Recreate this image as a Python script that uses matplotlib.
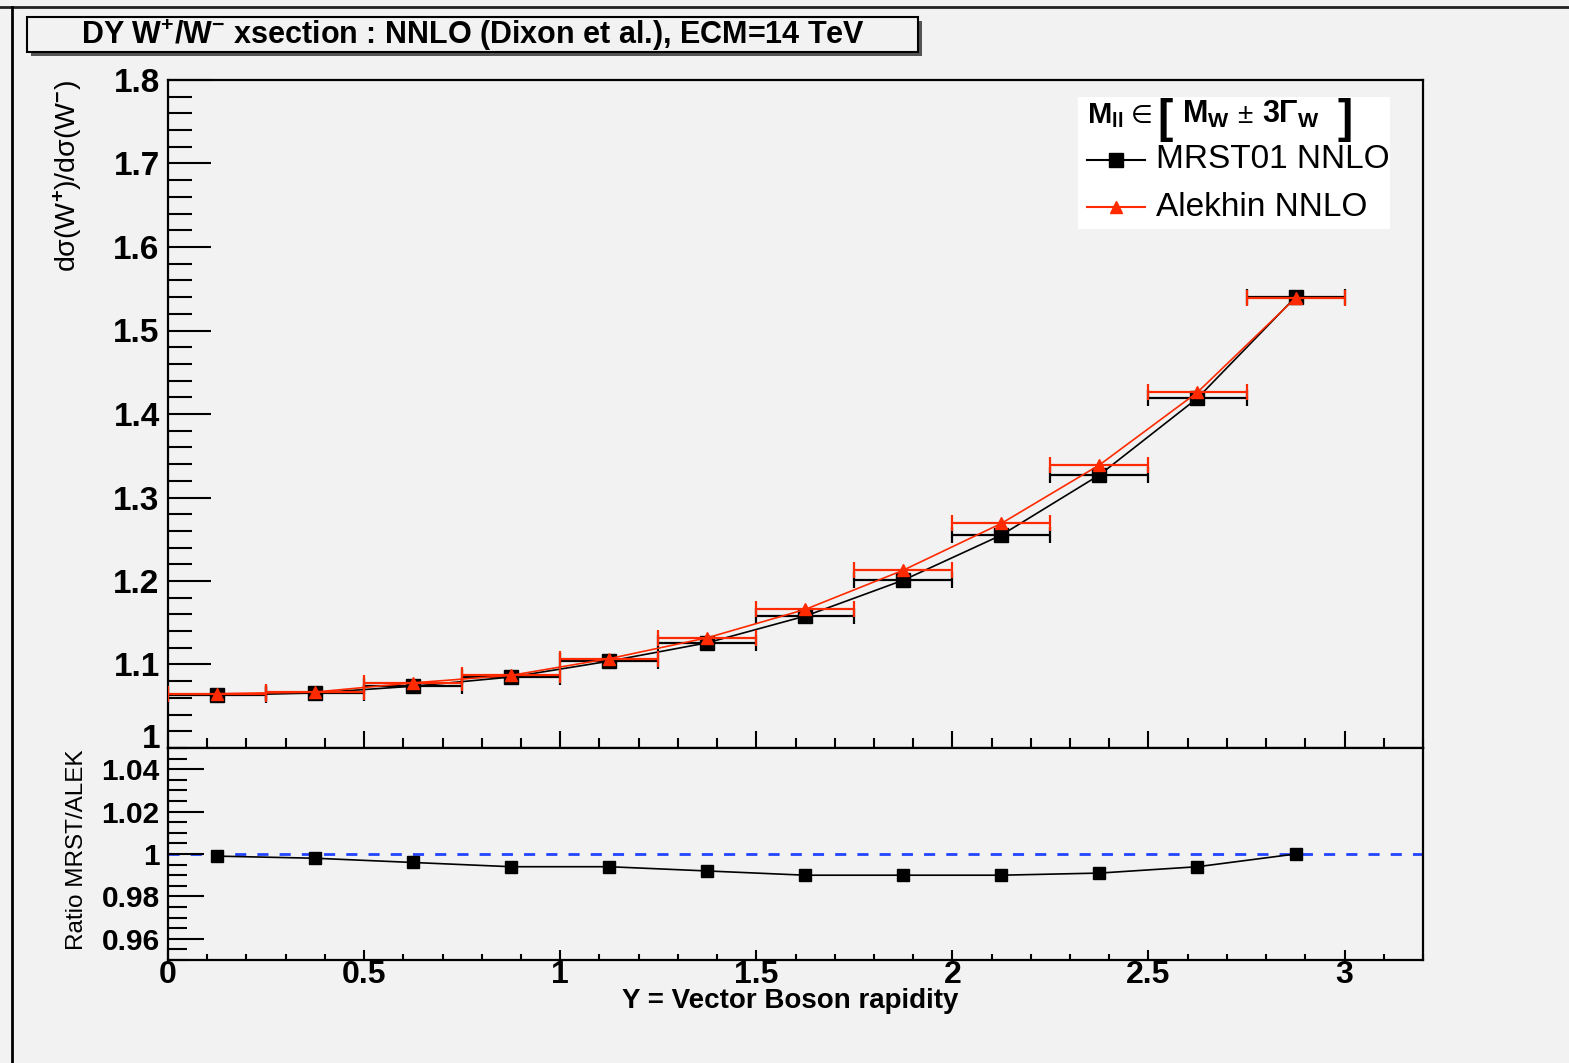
import numpy as np
import matplotlib
matplotlib.use("Agg")
import matplotlib.pyplot as plt
from matplotlib.lines import Line2D
from matplotlib.patches import Rectangle
from matplotlib.ticker import MultipleLocator, FuncFormatter

plt.rcParams["font.family"] = ["Liberation Sans", "DejaVu Sans"]
plt.rcParams["font.weight"] = "bold"
plt.rcParams["mathtext.fontset"] = "custom"
plt.rcParams["mathtext.rm"] = "Liberation Sans"
plt.rcParams["mathtext.it"] = "Liberation Sans:italic"
plt.rcParams["mathtext.bf"] = "Liberation Sans:bold"

# ---- data ----
rapidity = [0.125, 0.375, 0.625, 0.875, 1.125, 1.375, 1.625, 1.875, 2.125, 2.375, 2.625, 2.875]
bin_half = [0.125] * 12
mrst = [1.063, 1.066, 1.074, 1.085, 1.104, 1.126, 1.158, 1.201, 1.255, 1.327, 1.419, 1.540]
alekhin = [1.065, 1.067, 1.078, 1.087, 1.107, 1.132, 1.166, 1.213, 1.269, 1.339, 1.426, 1.539]
ratio = [0.999, 0.998, 0.996, 0.994, 0.994, 0.992, 0.990, 0.990, 0.990, 0.991, 0.994, 1.000]

title = "DY W$^{+}$/W$^{-}$ xsection : NNLO (Dixon et al.), ECM=14 TeV"
leg_labels = ["MRST01 NNLO", "Alekhin NNLO"]

W, H = 1569, 1063
bg = "#f2f2f2"
red = "#ff2a00"


def px(x, y):
    return x / W, 1 - y / H


def fmt_main(v, p):
    # the "1" at the bottom is drawn separately (half hidden by the ratio pad)
    return "" if abs(v - 1.0) < 1e-6 else "%g" % round(v, 3)


fig = plt.figure(figsize=(W / 100, H / 100), dpi=100, facecolor=bg)

# canvas border lines
fig.add_artist(Line2D([0, 1], [px(0, 7)[1]] * 2, color="#222222", lw=2, transform=fig.transFigure))
fig.add_artist(Line2D([px(12, 0)[0]] * 2, [0, px(0, 7)[1]], color="black", lw=2, transform=fig.transFigure))

ax = fig.add_axes([168 / W, 1 - 748 / H, (1423 - 168) / W, (748 - 80) / H], facecolor=bg)
axr = fig.add_axes([168 / W, 1 - 960 / H, (1423 - 168) / W, (960 - 748) / H], facecolor=bg, sharex=ax)

# ---- main panel ----
ax.errorbar(rapidity, mrst, xerr=bin_half, fmt="none", ecolor="black", elinewidth=1.6, capsize=6, capthick=1.6, zorder=2)
ax.plot(rapidity, mrst, color="black", lw=1.2, zorder=3)
ax.plot(rapidity, mrst, "s", color="black", ms=10, zorder=4)
ax.errorbar(rapidity, alekhin, xerr=bin_half, fmt="none", ecolor=red, elinewidth=1.6, capsize=6, capthick=1.6, zorder=5)
ax.plot(rapidity, alekhin, color=red, lw=1.2, zorder=6)
ax.plot(rapidity, alekhin, "^", color=red, ms=9, zorder=7)

ax.set_xlim(0, 3.2)
ax.set_ylim(1.0, 1.8)
ax.yaxis.set_major_locator(MultipleLocator(0.1))
ax.yaxis.set_minor_locator(MultipleLocator(0.02))
ax.xaxis.set_major_locator(MultipleLocator(0.5))
ax.xaxis.set_minor_locator(MultipleLocator(0.1))
ax.yaxis.set_major_formatter(FuncFormatter(fmt_main))
ax.tick_params(axis="y", which="major", direction="in", length=31, width=1.5, labelsize=24, pad=6, right=False)
ax.tick_params(axis="y", which="minor", direction="in", length=17, width=1.5, right=False)
ax.tick_params(axis="x", which="major", direction="in", length=12, width=1.5, top=False, labelbottom=False)
ax.tick_params(axis="x", which="minor", direction="in", length=7, width=1.5, top=False)
for s in ax.spines.values():
    s.set_linewidth(1.6)

# ---- ratio panel ----
axr.axhline(1.0, color="#2244ff", lw=2, ls=(0, (4, 4)), zorder=1)
axr.plot(rapidity, ratio, color="black", lw=1.2, zorder=2)
axr.plot(rapidity, ratio, "s", color="black", ms=9, zorder=3)
axr.set_ylim(0.95, 1.05)
axr.yaxis.set_minor_locator(MultipleLocator(0.005))
axr.set_yticks([0.96, 0.98, 1.0, 1.02, 1.04])
axr.yaxis.set_major_formatter(FuncFormatter(lambda v, p: "%g" % round(v, 3)))
axr.xaxis.set_major_formatter(FuncFormatter(lambda v, p: "%g" % round(v, 3)))
axr.tick_params(axis="y", which="major", direction="in", length=26, width=1.5, labelsize=21.5, pad=6, right=False)
axr.tick_params(axis="y", which="minor", direction="in", length=14, width=1.5, right=False)
axr.tick_params(axis="x", which="major", direction="in", length=7, width=1.5, labelsize=23, pad=0, top=False)
axr.tick_params(axis="x", which="minor", direction="in", length=4.5, width=1.5, top=False)
for s in axr.spines.values():
    s.set_linewidth(1.6)

# main panel's "1", its lower part hidden by the ratio pad as in ROOT
fig.text(*px(160, 739), "1", ha="right", va="center", fontsize=24, fontweight="bold", zorder=4)
fig.add_artist(Rectangle(px(130, 756), 36 / W, 7 / H, transform=fig.transFigure,
                         facecolor=bg, edgecolor="none", zorder=5))

# axis titles
fig.text(*px(790, 1008), "Y = Vector Boson rapidity", ha="center", va="baseline", fontsize=20, fontweight="bold")
fig.text(*px(68, 80), "d\u03c3(W$^{+}$)/d\u03c3(W$^{-}$)", rotation=90, ha="center", va="top", fontsize=20.5, fontweight="normal")
fig.text(*px(77, 750), "Ratio MRST/ALEK", rotation=90, ha="center", va="top", fontsize=17.5, fontweight="normal")

# title box with shadow
x0, y0 = px(27, 52)
x1, y1 = px(918, 17)
fig.add_artist(Rectangle((x0 + 4 / W, y0 - 4 / H), x1 - x0, y1 - y0, transform=fig.transFigure,
                         facecolor="#555555", edgecolor="none", zorder=1))
fig.add_artist(Rectangle((x0, y0), x1 - x0, y1 - y0, transform=fig.transFigure,
                         facecolor=bg, edgecolor="black", lw=1.5, zorder=2))
fig.text(*px(473, 35), title, ha="center", va="center", fontsize=22, fontweight="bold", zorder=3)

# legend
lx0, ly0 = px(1078, 229)
lx1, ly1 = px(1390, 97)
fig.add_artist(Rectangle((lx0, ly0), lx1 - lx0, ly1 - ly0, transform=fig.transFigure,
                         facecolor="white", edgecolor="none", zorder=8))
# header: M_ll in [ M_W +- 3 Gamma_W ]
hy = 123
fig.text(*px(1087, hy), r"$\mathbf{M_{ll}}$", ha="left", va="baseline", fontsize=21, zorder=9)
fig.text(*px(1131, hy), "\u2208", ha="left", va="baseline", fontsize=18, fontweight="normal",
         family=["DejaVu Sans"], zorder=9)
fig.text(*px(1157, hy + 9), "[", ha="left", va="baseline", fontsize=33, fontweight="bold", zorder=9)
fig.text(*px(1182, hy), r"$\mathbf{M_{W}}$", ha="left", va="baseline", fontsize=22, zorder=9)
fig.text(*px(1237, hy), "\u00b1", ha="left", va="baseline", fontsize=20, fontweight="normal", zorder=9)
fig.text(*px(1262, hy), r"$\mathbf{3}\Gamma_{\mathbf{W}}$", ha="left", va="baseline", fontsize=22, zorder=9)
fig.text(*px(1337, hy + 9), "]", ha="left", va="baseline", fontsize=33, fontweight="bold", zorder=9)
for (yy, lab, col, mk, ms) in [(160, leg_labels[0], "black", "s", 10), (207, leg_labels[1], red, "^", 9)]:
    fx0, fy = px(1087, yy)
    fx1, _ = px(1145, yy)
    fm, _ = px(1116, yy)
    fig.add_artist(Line2D([fx0, fx1], [fy, fy], color=col, lw=1.5, transform=fig.transFigure, zorder=9))
    fig.add_artist(Line2D([fm], [fy], marker=mk, color=col, ms=ms, transform=fig.transFigure, zorder=9))
    fig.text(*px(1156, yy), lab, ha="left", va="center", fontsize=24, fontweight="normal", zorder=9)

fig.savefig("out.png", dpi=100, facecolor=bg)
